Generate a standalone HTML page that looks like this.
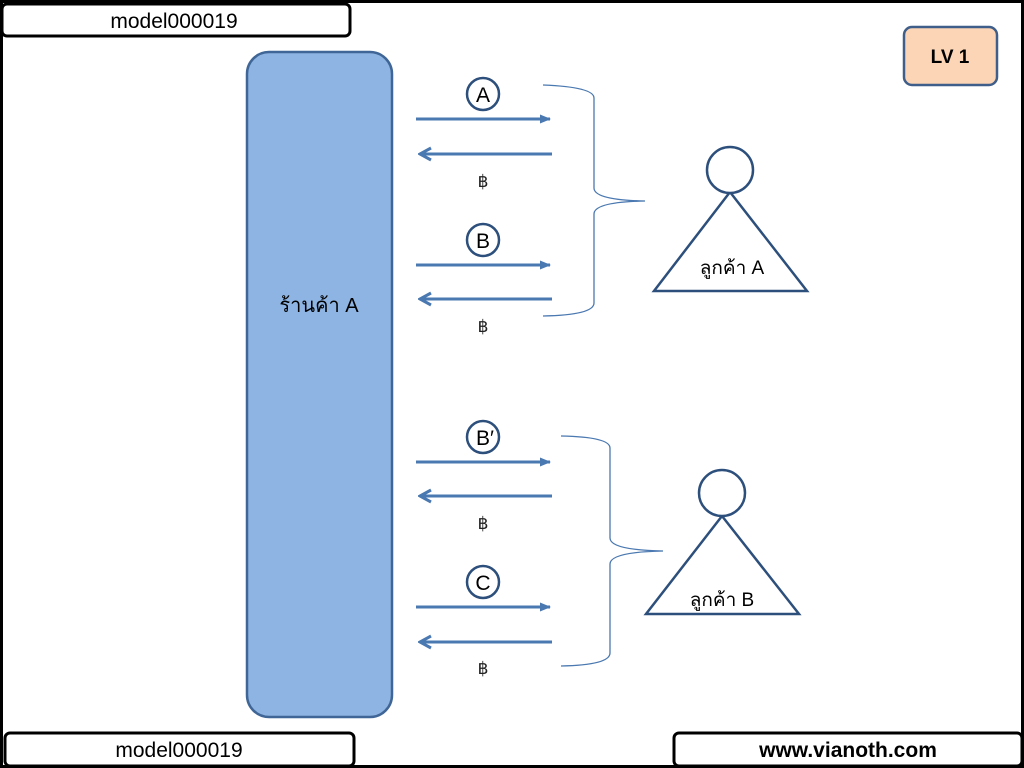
<!DOCTYPE html>
<html><head><meta charset="utf-8"><style>
html,body{margin:0;padding:0;background:#fff;}
svg{display:block;}
text{font-family:"Liberation Sans","Noto Sans CJK SC","DejaVu Sans",sans-serif;}
</style></head><body>
<svg width="1024" height="768" viewBox="0 0 1024 768" xmlns="http://www.w3.org/2000/svg">
<defs>
<marker id="ah" markerWidth="12" markerHeight="12" refX="10" refY="6" orient="auto" markerUnits="userSpaceOnUse">
<path d="M0,1.5 L11,6 L0,10.5 z" fill="#4a78b0"/>
</marker>
<marker id="ao" markerWidth="16" markerHeight="16" refX="2" refY="8" orient="auto" markerUnits="userSpaceOnUse">
<path d="M13,2 L2,8 L13,14" fill="none" stroke="#4a78b0" stroke-width="3"/>
</marker>
</defs>
<rect x="0" y="0" width="1024" height="768" fill="#fff"/>
<rect x="1.5" y="1.5" width="1021" height="765" fill="none" stroke="#000" stroke-width="3"/>
<rect x="2" y="4" width="348" height="32" rx="5" fill="#fff" stroke="#000" stroke-width="3"/>
<text x="174" y="28" font-size="21" text-anchor="middle">model000019</text>
<rect x="5" y="733" width="349" height="33" rx="5" fill="#fff" stroke="#000" stroke-width="3"/>
<text x="179" y="757" font-size="21" text-anchor="middle">model000019</text>
<rect x="674" y="733" width="348" height="33" rx="5" fill="#fff" stroke="#000" stroke-width="3"/>
<text x="848" y="757" font-size="21" font-weight="bold" text-anchor="middle">www.vianoth.com</text>
<rect x="904" y="27" width="93" height="58" rx="8" fill="#fbd5b5" stroke="#3f5f8a" stroke-width="2.5"/>
<text x="950" y="63" font-size="19" font-weight="bold" text-anchor="middle">LV 1</text>
<rect x="247" y="52" width="145" height="665" rx="22" fill="#8eb4e3" stroke="#3f6696" stroke-width="2.5"/>
<text x="319" y="312" font-size="20" text-anchor="middle">ร้านค้า A</text>
<g stroke="#4a78b0" stroke-width="3">
<line x1="416" y1="119" x2="550" y2="119" marker-end="url(#ah)"/>
<line x1="420" y1="154" x2="552" y2="154" marker-start="url(#ao)"/>
<line x1="416" y1="265" x2="550" y2="265" marker-end="url(#ah)"/>
<line x1="420" y1="299" x2="552" y2="299" marker-start="url(#ao)"/>
<line x1="416" y1="462" x2="550" y2="462" marker-end="url(#ah)"/>
<line x1="420" y1="496" x2="552" y2="496" marker-start="url(#ao)"/>
<line x1="416" y1="607" x2="550" y2="607" marker-end="url(#ah)"/>
<line x1="420" y1="642" x2="552" y2="642" marker-start="url(#ao)"/>
</g>
<g fill="#fff" stroke="#2d4f7c" stroke-width="2.5">
<circle cx="483" cy="94" r="16"/>
<circle cx="483" cy="240" r="16"/>
<circle cx="483" cy="437" r="16"/>
<circle cx="483" cy="582" r="16"/>
</g>
<g font-size="21" text-anchor="middle">
<text x="483" y="102">A</text>
<text x="483" y="248">B</text>
<text x="485" y="445">B′</text>
<text x="483" y="590">C</text>
</g>
<g font-size="17" text-anchor="middle" fill="#222">
<text x="483" y="187">฿</text>
<text x="483" y="332">฿</text>
<text x="483" y="529">฿</text>
<text x="483" y="674">฿</text>
</g>
<g fill="none" stroke="#4a78b0" stroke-width="1.3">
<path d="M543,85 Q594,87 594,98 L594,188 Q594,200 645,201 Q594,202 594,214 L594,303 Q594,315 543,316"/>
<path d="M561,436 Q610,437 610,448 L610,538 Q610,550 663,551 Q610,552 610,564 L610,653 Q610,665 561,666"/>
</g>
<g fill="#fff" stroke="#2d4f7c" stroke-width="2.5">
<polygon points="730,192 654,291 807,291"/>
<circle cx="730" cy="170" r="23"/>
<polygon points="722,516 646,614 799,614"/>
<circle cx="722" cy="493" r="23"/>
</g>
<text x="732" y="274" font-size="19" text-anchor="middle">ลูกค้า A</text>
<text x="722" y="606" font-size="19" text-anchor="middle">ลูกค้า B</text>
</svg>
</body></html>
